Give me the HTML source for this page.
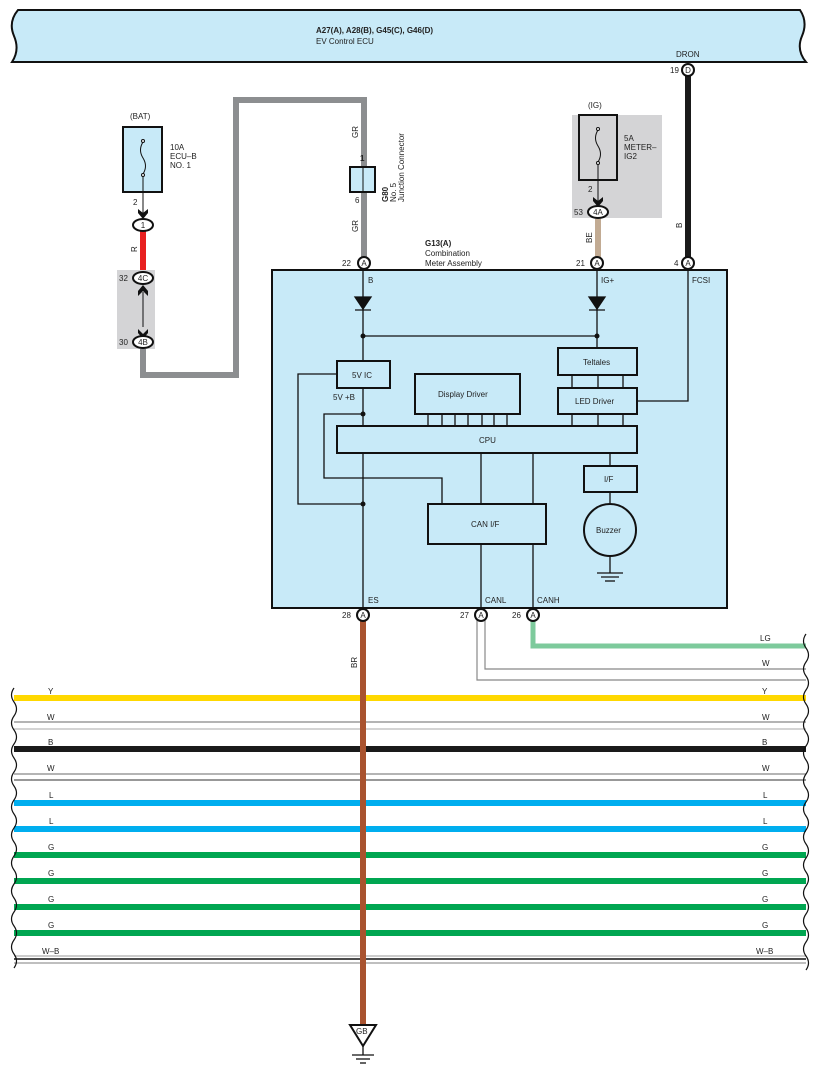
<!DOCTYPE html>
<html><head><meta charset="utf-8"><style>
body{margin:0;background:#fff}
svg{display:block}
text{font-family:"Liberation Sans",sans-serif;font-size:8px;fill:#222}
</style></head><body>
<svg width="818" height="1078" viewBox="0 0 818 1078" xmlns="http://www.w3.org/2000/svg">
<!-- ECU top box -->
<path d="M18,10 L800,10 Q808,22 802,36 Q796,50 806,62 L12,62 Q20,50 14,36 Q8,22 18,10 Z" fill="#c8eaf8" stroke="#111" stroke-width="2"/>
<text x="316" y="33" font-weight="bold">A27(A), A28(B), G45(C), G46(D)</text>
<text x="316" y="44">EV Control ECU</text>
<text x="676" y="57">DRON</text>
<!-- B wire -->
<line x1="688" y1="70" x2="688" y2="263" stroke="#1a1a1a" stroke-width="6"/>
<text transform="translate(682,228) rotate(-90)">B</text>
<!-- BAT fuse -->
<text x="130" y="119">(BAT)</text>
<rect x="123" y="127" width="39" height="65" fill="#c8eaf8" stroke="#111" stroke-width="2"/>
<path d="M143,142 q-5,8 0,16 q5,8 0,16" fill="none" stroke="#111"/>
<circle cx="143" cy="141" r="1.5" fill="#fff" stroke="#111"/><circle cx="143" cy="175" r="1.5" fill="#fff" stroke="#111"/>
<line x1="143" y1="176" x2="143" y2="214" stroke="#111"/>
<path d="M138,209 L143,213 L148,209 L148,213 L143,219 L138,213 Z" fill="#111"/>
<text x="170" y="150">10A</text><text x="170" y="159">ECU–B</text><text x="170" y="168">NO. 1</text>
<text x="133" y="205">2</text>
<line x1="143" y1="231" x2="143" y2="271" stroke="#e82020" stroke-width="6"/>
<text transform="translate(137,252) rotate(-90)">R</text>
<rect x="117" y="270" width="38" height="79" fill="#d4d4d6"/>
<line x1="143" y1="292" x2="143" y2="327" stroke="#111"/>
<path d="M138,291 L143,285 L148,291 L148,296 L143,291 L138,296 Z" fill="#111"/>
<path d="M138,329 L143,334 L148,329 L148,333 L143,339 L138,333 Z" fill="#111"/>
<!-- gray wire -->
<path d="M143,349 L143,375 L236,375 L236,100 L364,100 L364,258" fill="none" stroke="#8c8e90" stroke-width="6"/>
<rect x="350" y="167" width="25" height="25" fill="#c8eaf8" stroke="#111" stroke-width="2"/>
<line x1="363" y1="167" x2="363" y2="192" stroke="#111"/>
<text x="360" y="161" font-weight="bold">1</text><text x="355" y="203">6</text>
<text transform="translate(358,138) rotate(-90)">GR</text>
<text transform="translate(358,232) rotate(-90)">GR</text>
<text transform="translate(388,202) rotate(-90)" font-weight="bold">G80</text>
<text transform="translate(396,202) rotate(-90)">No. 5</text>
<text transform="translate(404,202) rotate(-90)">Junction Connector</text>
<!-- IG fuse -->
<rect x="572" y="115" width="90" height="103" fill="#d4d4d6"/>
<text x="588" y="108">(IG)</text>
<rect x="579" y="115" width="38" height="65" fill="#d4d4d6" stroke="#111" stroke-width="2"/>
<path d="M598,130 q-5,8 0,16 q5,8 0,16" fill="none" stroke="#111"/>
<circle cx="598" cy="129" r="1.5" fill="#fff" stroke="#111"/><circle cx="598" cy="163" r="1.5" fill="#fff" stroke="#111"/>
<line x1="598" y1="164" x2="598" y2="202" stroke="#111"/>
<path d="M593,197 L598,201 L603,197 L603,201 L598,207 L593,201 Z" fill="#111"/>
<text x="624" y="141">5A</text><text x="624" y="150">METER–</text><text x="624" y="159">IG2</text>
<text x="588" y="192">2</text>
<line x1="598" y1="219" x2="598" y2="258" stroke="#c2ab93" stroke-width="6"/>
<text transform="translate(592,243) rotate(-90)">BE</text>
<text x="425" y="246" font-weight="bold">G13(A)</text>
<text x="425" y="256">Combination</text><text x="425" y="266">Meter Assembly</text>
<!-- main box -->
<rect x="272" y="270" width="455" height="338" fill="#c8eaf8" stroke="#111" stroke-width="2"/>
<g stroke="#111" stroke-width="1.3" fill="none">
<line x1="363" y1="270" x2="363" y2="361"/>
<line x1="597" y1="270" x2="597" y2="348"/>
<line x1="363" y1="336" x2="597" y2="336"/>
<path d="M688,270 L688,401 L637,401"/>
<path d="M337,374 L298,374 L298,504 L363,504"/>
<line x1="363" y1="388" x2="363" y2="426"/>
<path d="M363,414 L324,414 L324,478 L442,478 L442,504"/>
<line x1="363" y1="453" x2="363" y2="608"/>
<line x1="481" y1="453" x2="481" y2="504"/><line x1="533" y1="453" x2="533" y2="504"/>
<line x1="481" y1="544" x2="481" y2="608"/><line x1="533" y1="544" x2="533" y2="608"/>
<line x1="572" y1="375" x2="572" y2="426"/><line x1="598" y1="375" x2="598" y2="426"/><line x1="623" y1="375" x2="623" y2="426"/>
<line x1="428" y1="414" x2="428" y2="426"/><line x1="442" y1="414" x2="442" y2="426"/><line x1="455" y1="414" x2="455" y2="426"/><line x1="468" y1="414" x2="468" y2="426"/><line x1="482" y1="414" x2="482" y2="426"/><line x1="494" y1="414" x2="494" y2="426"/><line x1="507" y1="414" x2="507" y2="426"/>
<line x1="610" y1="453" x2="610" y2="466"/><line x1="610" y1="492" x2="610" y2="503"/><line x1="610" y1="557" x2="610" y2="573"/>
<line x1="597" y1="573" x2="623" y2="573"/><line x1="601" y1="577" x2="619" y2="577"/><line x1="605" y1="581" x2="615" y2="581"/>
</g>
<g stroke="#111" stroke-width="2" fill="#c8eaf8">
<rect x="558" y="348" width="79" height="27"/><rect x="558" y="388" width="79" height="26"/>
<rect x="337" y="361" width="53" height="27"/><rect x="415" y="374" width="105" height="40"/>
<rect x="337" y="426" width="300" height="27"/><rect x="428" y="504" width="118" height="40"/>
<rect x="584" y="466" width="53" height="26"/><circle cx="610" cy="530" r="26"/>
</g>
<path d="M355,297 L371,297 L363,309 Z M355,310 L371,310" fill="#111" stroke="#111" stroke-width="1.3"/>
<path d="M589,297 L605,297 L597,309 Z M589,310 L605,310" fill="#111" stroke="#111" stroke-width="1.3"/>
<circle cx="363" cy="336" r="2.5" fill="#111"/><circle cx="597" cy="336" r="2.5" fill="#111"/>
<circle cx="363" cy="414" r="2.5" fill="#111"/><circle cx="363" cy="504" r="2.5" fill="#111"/>
<text x="368" y="283">B</text><text x="601" y="283">IG+</text><text x="692" y="283">FCSI</text>
<text x="583" y="365">Teltales</text><text x="575" y="404">LED Driver</text>
<text x="352" y="378">5V IC</text><text x="333" y="400">5V +B</text>
<text x="438" y="397">Display Driver</text><text x="479" y="443">CPU</text>
<text x="471" y="527">CAN I/F</text><text x="604" y="482">I/F</text><text x="596" y="533">Buzzer</text>
<text x="368" y="603">ES</text><text x="485" y="603">CANL</text><text x="537" y="603">CANH</text>
<!-- lower wires -->
<line x1="363" y1="620" x2="363" y2="1027" stroke="#a9532f" stroke-width="6"/>
<text transform="translate(357,668) rotate(-90)">BR</text>
<path d="M533,620 L533,646 L806,646" fill="none" stroke="#7dca9c" stroke-width="5"/>
<path d="M485,620 L485,669 L806,669 M477,620 L477,680 L806,680" fill="none" stroke="#888" stroke-width="1.2"/>
<text x="760" y="641">LG</text><text x="762" y="666">W</text>
<g>
<line x1="14" y1="698" x2="806" y2="698" stroke="#ffd800" stroke-width="6"/>
<line x1="14" y1="722" x2="806" y2="722" stroke="#888" stroke-width="1.2"/><line x1="14" y1="729" x2="806" y2="729" stroke="#aaa" stroke-width="1"/>
<line x1="14" y1="749" x2="806" y2="749" stroke="#1a1a1a" stroke-width="6"/>
<line x1="14" y1="774" x2="806" y2="774" stroke="#888" stroke-width="1.2"/><line x1="14" y1="780" x2="806" y2="780" stroke="#777" stroke-width="1.5"/>
<line x1="14" y1="803" x2="806" y2="803" stroke="#00aeef" stroke-width="6"/>
<line x1="14" y1="829" x2="806" y2="829" stroke="#00aeef" stroke-width="6"/>
<line x1="14" y1="855" x2="806" y2="855" stroke="#00a651" stroke-width="6"/>
<line x1="14" y1="881" x2="806" y2="881" stroke="#00a651" stroke-width="6"/>
<line x1="14" y1="907" x2="806" y2="907" stroke="#00a651" stroke-width="6"/>
<line x1="14" y1="933" x2="806" y2="933" stroke="#00a651" stroke-width="6"/>
<line x1="14" y1="956" x2="806" y2="956" stroke="#999" stroke-width="1"/><line x1="14" y1="959" x2="806" y2="959" stroke="#111" stroke-width="1.5"/><line x1="14" y1="963" x2="806" y2="963" stroke="#999" stroke-width="1.2"/>
</g>
<line x1="363" y1="690" x2="363" y2="970" stroke="#a9532f" stroke-width="6"/>
<path d="M14,688 q-5,7 0,14 q5,7 0,14 q-5,7 0,14 q5,7 0,14 q-5,7 0,14 q5,7 0,14 q-5,7 0,14 q5,7 0,14 q-5,7 0,14 q5,7 0,14 q-5,7 0,14 q5,7 0,14 q-5,7 0,14 q5,7 0,14 q-5,7 0,14 q5,7 0,14 q-5,7 0,14 q5,7 0,14 q-5,7 0,14 q5,7 0,14" fill="none" stroke="#111" stroke-width="1.2"/>
<path d="M806,634 q-5,7 0,14 q5,7 0,14 q-5,7 0,14 q5,7 0,14 q-5,7 0,14 q5,7 0,14 q-5,7 0,14 q5,7 0,14 q-5,7 0,14 q5,7 0,14 q-5,7 0,14 q5,7 0,14 q-5,7 0,14 q5,7 0,14 q-5,7 0,14 q5,7 0,14 q-5,7 0,14 q5,7 0,14 q-5,7 0,14 q5,7 0,14 q-5,7 0,14 q5,7 0,14 q-5,7 0,14 q5,7 0,14" fill="none" stroke="#111" stroke-width="1.2"/>
<g>
<text x="48" y="694">Y</text><text x="762" y="694">Y</text>
<text x="47" y="720">W</text><text x="762" y="720">W</text>
<text x="48" y="745">B</text><text x="762" y="745">B</text>
<text x="47" y="771">W</text><text x="762" y="771">W</text>
<text x="49" y="798">L</text><text x="763" y="798">L</text>
<text x="49" y="824">L</text><text x="763" y="824">L</text>
<text x="48" y="850">G</text><text x="762" y="850">G</text>
<text x="48" y="876">G</text><text x="762" y="876">G</text>
<text x="48" y="902">G</text><text x="762" y="902">G</text>
<text x="48" y="928">G</text><text x="762" y="928">G</text>
<text x="42" y="954">W–B</text><text x="756" y="954">W–B</text>
</g>
<!-- GB ground -->
<path d="M350,1025 L376,1025 L363,1046 Z" fill="#fff" stroke="#111" stroke-width="2"/>
<text x="356" y="1034" font-size="7">GB</text>
<g stroke="#111" stroke-width="1.3"><line x1="363" y1="1046" x2="363" y2="1055"/><line x1="352" y1="1055" x2="374" y2="1055"/><line x1="356" y1="1059" x2="370" y2="1059"/><line x1="360" y1="1063" x2="366" y2="1063"/></g>
<!-- connectors -->
<g stroke="#111" stroke-width="2" fill="#fff">
<ellipse cx="688" cy="70" rx="6" ry="6"/>
<ellipse cx="143" cy="225" rx="10" ry="6"/>
<ellipse cx="143" cy="278" rx="10" ry="6"/><ellipse cx="143" cy="342" rx="10" ry="6"/>
<ellipse cx="598" cy="212" rx="10" ry="6"/>
<ellipse cx="364" cy="263" rx="6" ry="6"/><ellipse cx="597" cy="263" rx="6" ry="6"/><ellipse cx="688" cy="263" rx="6" ry="6"/>
<ellipse cx="363" cy="615" rx="6" ry="6"/><ellipse cx="481" cy="615" rx="6" ry="6"/><ellipse cx="533" cy="615" rx="6" ry="6"/>
</g>
<g font-size="7" text-anchor="middle">
<text x="688" y="73">D</text><text x="143" y="228">1</text><text x="143" y="281">4C</text><text x="143" y="345">4B</text><text x="598" y="215">4A</text>
<text x="364" y="266">A</text><text x="597" y="266">A</text><text x="688" y="266">A</text>
<text x="363" y="618">A</text><text x="481" y="618">A</text><text x="533" y="618">A</text>
</g>
<text x="670" y="73">19</text><text x="119" y="281">32</text><text x="119" y="345">30</text><text x="574" y="215">53</text>
<text x="342" y="266">22</text><text x="576" y="266">21</text><text x="674" y="266">4</text>
<text x="342" y="618">28</text><text x="460" y="618">27</text><text x="512" y="618">26</text>
</svg>
</body></html>
